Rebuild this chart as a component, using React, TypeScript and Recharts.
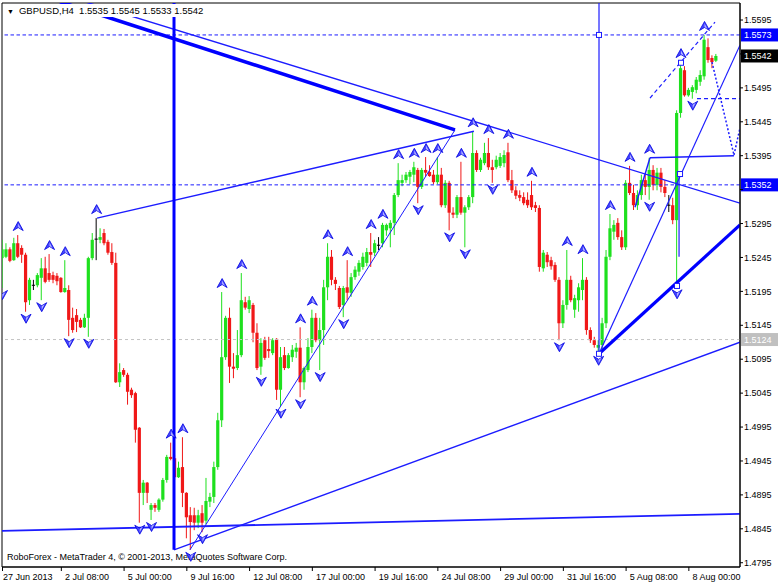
import React from 'react';
import {
  ComposedChart,
  Bar,
  Scatter,
  XAxis,
  YAxis,
  ReferenceLine,
  ReferenceDot,
  ReferenceArea,
} from 'recharts';

// GBPUSD H4, 27 Jun 2013 20:00 .. 8 Aug 2013
const opens = [
  1.5244, 1.5246, 1.5257, 1.5241, 1.5266, 1.5259, 1.5249, 1.5182, 1.5204, 1.5204,
  1.5215, 1.5229, 1.5222, 1.5219, 1.5218, 1.5215, 1.5194, 1.5197, 1.5156, 1.516,
  1.5153, 1.5142, 1.5156, 1.5244, 1.5272, 1.5271, 1.5281, 1.5268, 1.5253, 1.5237,
  1.5061, 1.5079, 1.5072, 1.505, 1.5045, 1.4994, 1.4898, 1.4913, 1.4873, 1.488,
  1.4873, 1.4888, 1.4917, 1.4951, 1.4949, 1.4921, 1.4936, 1.4898, 1.4865, 1.4865,
  1.4854, 1.4868, 1.4857, 1.4885, 1.4892, 1.4936, 1.5005, 1.5098, 1.5156, 1.5084,
  1.5082, 1.5101, 1.5179, 1.5169, 1.5175, 1.5134, 1.5084, 1.5123, 1.511, 1.5104,
  1.5125, 1.505, 1.5101, 1.5082, 1.5098, 1.5106, 1.5112, 1.5061, 1.5079, 1.5113,
  1.5156, 1.5123, 1.5138, 1.5201, 1.5246, 1.5212, 1.52, 1.5175, 1.5201, 1.5193,
  1.5216, 1.5224, 1.5231, 1.5237, 1.5253, 1.5252, 1.5263, 1.5266, 1.5285, 1.5288,
  1.5296, 1.5337, 1.5355, 1.5359, 1.5364, 1.5367, 1.5374, 1.5349, 1.5374, 1.5371,
  1.5367, 1.5356, 1.5367, 1.5322, 1.5355, 1.5311, 1.5308, 1.5334, 1.5311, 1.5319,
  1.5334, 1.5399, 1.5374, 1.5384, 1.5399, 1.5378, 1.5378, 1.538, 1.5384, 1.54,
  1.5359, 1.5344, 1.5337, 1.5334, 1.533, 1.5337, 1.5322, 1.5318, 1.5229, 1.5249,
  1.5241, 1.5234, 1.5212, 1.5148, 1.5175, 1.5212, 1.5168, 1.5182, 1.5197, 1.5212,
  1.5138, 1.5123, 1.5112, 1.5116, 1.5148, 1.5246, 1.5283, 1.5296, 1.5275, 1.526,
  1.5355, 1.534, 1.5322, 1.5337, 1.5359, 1.5349, 1.5374, 1.5352, 1.537, 1.5349,
  1.5322, 1.5322, 1.53, 1.5458, 1.5521, 1.5484, 1.5489, 1.5492, 1.5504, 1.5512,
  1.5555, 1.5539, 1.5535,
];

const highs = [
  1.5271, 1.5266, 1.526, 1.5274, 1.5278, 1.5263, 1.5252, 1.5215, 1.5212, 1.5222,
  1.5244, 1.5246, 1.525, 1.5224, 1.5222, 1.5216, 1.5241, 1.5204, 1.5171, 1.5169,
  1.5156, 1.5162, 1.5246, 1.5281, 1.5303, 1.5288, 1.5287, 1.5271, 1.5266, 1.5252,
  1.5089, 1.5082, 1.5075, 1.5053, 1.5047, 1.4995, 1.4917, 1.4914, 1.4883, 1.4883,
  1.489, 1.492, 1.4954, 1.4972, 1.4954, 1.4944, 1.498, 1.4899, 1.4877, 1.4876,
  1.4873, 1.488, 1.492, 1.4898, 1.4944, 1.5016, 1.5194, 1.5159, 1.5171, 1.5104,
  1.5138, 1.5222, 1.5187, 1.5188, 1.5178, 1.5148, 1.5126, 1.5128, 1.5128, 1.5126,
  1.5126, 1.5113, 1.5113, 1.5104, 1.5116, 1.5119, 1.5142, 1.5084, 1.5126, 1.5168,
  1.5163, 1.5156, 1.5212, 1.5266, 1.5256, 1.5216, 1.5203, 1.5203, 1.5241, 1.5222,
  1.5232, 1.5241, 1.5252, 1.5259, 1.5281, 1.5271, 1.5275, 1.5296, 1.5295, 1.53,
  1.534, 1.5384, 1.5367, 1.5371, 1.5374, 1.5386, 1.5377, 1.5377, 1.5393, 1.5381,
  1.5374, 1.5393, 1.5377, 1.5359, 1.5358, 1.5319, 1.5337, 1.5386, 1.5322, 1.5337,
  1.5431, 1.5403, 1.5392, 1.5414, 1.5421, 1.5389, 1.5395, 1.5399, 1.5403, 1.5414,
  1.5374, 1.535, 1.5344, 1.5341, 1.5341, 1.5358, 1.5327, 1.5322, 1.5256, 1.5253,
  1.5246, 1.5238, 1.5216, 1.5182, 1.5256, 1.5218, 1.519, 1.5207, 1.5244, 1.5216,
  1.5142, 1.5128, 1.5123, 1.5156, 1.5256, 1.5309, 1.53, 1.5303, 1.5285, 1.5359,
  1.538, 1.5352, 1.5344, 1.5367, 1.5368, 1.5392, 1.5381, 1.5377, 1.5377, 1.5359,
  1.5337, 1.5333, 1.5462, 1.5533, 1.5527, 1.5495, 1.5499, 1.5511, 1.5521, 1.5573,
  1.5568, 1.5543, 1.5545,
];

const lows = [
  1.52, 1.5244, 1.5238, 1.524, 1.5244, 1.5237, 1.5165, 1.5175, 1.5197, 1.5201,
  1.5182, 1.5207, 1.5209, 1.5207, 1.5204, 1.5193, 1.5193, 1.5129, 1.5134, 1.5135,
  1.5141, 1.5141, 1.5128, 1.5241, 1.5241, 1.5266, 1.5263, 1.5249, 1.5234, 1.506,
  1.5054, 1.5069, 1.5028, 1.5038, 1.4972, 1.4854, 1.488, 1.4883, 1.4858, 1.487,
  1.487, 1.4885, 1.4913, 1.4946, 1.4917, 1.492, 1.4877, 1.4831, 1.4814, 1.4843,
  1.4846, 1.484, 1.4852, 1.4877, 1.4883, 1.4932, 1.4995, 1.5094, 1.506, 1.5067,
  1.5079, 1.5098, 1.5168, 1.5163, 1.512, 1.5079, 1.5072, 1.5094, 1.5097, 1.5101,
  1.5035, 1.5025, 1.5079, 1.5081, 1.5091, 1.5097, 1.5039, 1.505, 1.5076, 1.5104,
  1.512, 1.5079, 1.5116, 1.5182, 1.5204, 1.5197, 1.5169, 1.5157, 1.5182, 1.5187,
  1.5212, 1.5218, 1.5227, 1.5232, 1.5231, 1.5247, 1.5256, 1.526, 1.5277, 1.526,
  1.5278, 1.5334, 1.535, 1.5355, 1.5353, 1.5356, 1.5325, 1.5346, 1.5364, 1.5364,
  1.5353, 1.5353, 1.5319, 1.5318, 1.5285, 1.5303, 1.5303, 1.5308, 1.526, 1.5315,
  1.5325, 1.5371, 1.5371, 1.5381, 1.5374, 1.5355, 1.5375, 1.5377, 1.5378, 1.5356,
  1.534, 1.5331, 1.5328, 1.5322, 1.5318, 1.5315, 1.5312, 1.5224, 1.5224, 1.5231,
  1.5227, 1.5209, 1.5123, 1.5141, 1.5168, 1.5179, 1.5156, 1.5165, 1.5182, 1.5131,
  1.5119, 1.5112, 1.5103, 1.5109, 1.5141, 1.5241, 1.5271, 1.5271, 1.5256, 1.5256,
  1.5337, 1.5315, 1.5315, 1.533, 1.5337, 1.533, 1.5344, 1.5344, 1.5341, 1.5334,
  1.5312, 1.5294, 1.5201, 1.5451, 1.5482, 1.5482, 1.5479, 1.5487, 1.5498, 1.5507,
  1.5532, 1.5524, 1.5533,
];

const closes = [
  1.5257, 1.5257, 1.524, 1.5266, 1.5246, 1.5249, 1.5179, 1.5212, 1.5204, 1.5219,
  1.5229, 1.5209, 1.5212, 1.5212, 1.521, 1.5194, 1.52, 1.5153, 1.5138, 1.515,
  1.5142, 1.5156, 1.5244, 1.5271, 1.5272, 1.5275, 1.5266, 1.5252, 1.5237, 1.5061,
  1.5076, 1.5072, 1.5047, 1.5042, 1.4991, 1.4898, 1.4913, 1.4898, 1.488, 1.4876,
  1.4888, 1.4917, 1.4951, 1.4948, 1.4921, 1.4935, 1.4898, 1.4862, 1.4855, 1.4854,
  1.4865, 1.4854, 1.4886, 1.4892, 1.4936, 1.5005, 1.5098, 1.5156, 1.5084, 1.5081,
  1.5101, 1.5182, 1.5171, 1.5182, 1.5134, 1.5082, 1.5119, 1.5097, 1.5107, 1.5123,
  1.505, 1.5098, 1.5082, 1.5101, 1.5109, 1.5112, 1.5061, 1.5082, 1.5113, 1.5156,
  1.5123, 1.5138, 1.5201, 1.5246, 1.5212, 1.5206, 1.5172, 1.52, 1.5193, 1.5216,
  1.5227, 1.5237, 1.5246, 1.5253, 1.5249, 1.5266, 1.5263, 1.5293, 1.5293, 1.5296,
  1.5337, 1.5359, 1.5359, 1.5367, 1.5371, 1.5378, 1.5349, 1.5374, 1.537, 1.5365,
  1.5356, 1.5367, 1.5322, 1.5355, 1.5311, 1.5308, 1.5334, 1.5311, 1.5319, 1.5334,
  1.5399, 1.5374, 1.5389, 1.5399, 1.5378, 1.5374, 1.5389, 1.5393, 1.5396, 1.5359,
  1.5344, 1.5336, 1.5333, 1.5325, 1.5322, 1.5319, 1.5318, 1.5231, 1.5252, 1.5238,
  1.5232, 1.5212, 1.5148, 1.5175, 1.5212, 1.5182, 1.5185, 1.5201, 1.5212, 1.5138,
  1.5123, 1.5116, 1.5116, 1.5148, 1.5246, 1.5288, 1.5293, 1.5275, 1.526, 1.5355,
  1.534, 1.5322, 1.5337, 1.5359, 1.5349, 1.5374, 1.5352, 1.537, 1.5349, 1.534,
  1.5322, 1.53, 1.5458, 1.5524, 1.5484, 1.5492, 1.5496, 1.5507, 1.5514, 1.5566,
  1.5536, 1.5533, 1.5542,
];

// bar numbers carrying a fractal arrow
const upFractals = [4, 12, 16, 24, 43, 46, 56, 61, 76, 79, 83, 88, 94, 97, 101, 105, 108, 111, 117, 120, 124, 129, 135, 144, 148, 155, 160, 165, 173, 179];
const downFractals = [0, 6, 10, 17, 22, 35, 38, 48, 51, 66, 71, 76, 81, 87, 106, 114, 118, 125, 142, 152, 165, 172, 176];

const dateTickBars = [0, 15, 31, 47, 63, 79, 95, 111, 127, 143, 159, 175];
const dateTickLabels = [
  '27 Jun 2013', '2 Jul 08:00', '5 Jul 00:00', '9 Jul 16:00', '12 Jul 08:00', '17 Jul 00:00',
  '19 Jul 16:00', '24 Jul 08:00', '29 Jul 00:00', '31 Jul 16:00', '5 Aug 08:00', '8 Aug 00:00',
];
const priceTicks = [
  1.5595, 1.5545, 1.5495, 1.5445, 1.5395, 1.5345, 1.5295, 1.5245, 1.5195,
  1.5145, 1.5095, 1.5045, 1.4995, 1.4945, 1.4895, 1.4845, 1.4795,
];

// price levels on the right scale
const highLevel = 1.5573;
const bidLevel = 1.5542;
const midLevel = 1.5352;
const lowLevel = 1.5124;
const taggedLevels = [highLevel, bidLevel, midLevel];

// drawn objects, anchors as [bar, price]
const thickFan = [[14.66, 1.5622], [115.37, 1.5433]];
const upperTrend = [[19.76, 1.5624], [188.04, 1.5325]];
const highsLine = [[24.1, 1.5303], [120.2, 1.5431]];
const baseLine = [[-0.13, 1.4842], [188.04, 1.4867]];
const longSupport = [[43.73, 1.4814], [188.04, 1.512]];
const steepRise = [[47.8, 1.4814], [115.37, 1.5433]];
const julyMarker = [[43.73, 1.5635], [43.73, 1.4814]];
const augMarker = [[152.09, 1.5635], [152.09, 1.5103]];
const augSupport = [[152.09, 1.5103], [188.04, 1.5293]];
const augRise = [[152.09, 1.5103], [188.04, 1.5558]];
const spikeMark = [[172.5, 1.5368], [172.5, 1.5246]];
const boxRise = [[161.27, 1.5319], [165.09, 1.5392]];
const boxTop = [[165.09, 1.5392], [186.5, 1.5395]];
const channelTop = [[165.09, 1.548], [181.67, 1.5592]];
const projDown = [[180.9, 1.5533], [186.5, 1.5396]];
const projUp = [[186.5, 1.5396], [188.04, 1.5436]];
const projLevel = [[177.08, 1.5479], [188.04, 1.5479]];
const anchorBoxes = [[152.09, 1.5573], [152.09, 1.5103], [171.98, 1.5203], [173.0, 1.5532], [172.75, 1.5368]];

const X_MIN = -0.1275;
const X_MAX = 188.04;
const Y_MIN = 1.47887;
const Y_MAX = 1.56201;

const candles = closes.map((c, i) => ({
  i,
  o: opens[i],
  h: highs[i],
  l: lows[i],
  c,
  range: [lows[i], highs[i]],
}));
const upData = upFractals.map((i) => ({ i, p: highs[i] }));
const downData = downFractals.map((i) => ({ i, p: lows[i] }));

const FONT = '"Liberation Sans", Arial, sans-serif';
const BLUE = '#1c1cff';

const seg = (pts: number[][]) => pts.map(([x, y]) => ({ x, y }));

const Candle = (props: any) => {
  const { x, y, width, height, payload } = props;
  if (x == null || !payload) return null;
  const top = Math.min(y, y + height);
  const bottom = Math.max(y, y + height);
  const { o, h, l, c } = payload;
  const span = h - l;
  const toY = (v: number) => (span > 0 ? top + ((h - v) / span) * (bottom - top) : top);
  const cx = x + width / 2;
  const yo = toY(o);
  const yc = toY(c);
  const color = c > o ? '#1ee01e' : c < o ? '#f01818' : '#000000';
  const bTop = Math.min(yo, yc);
  const bH = Math.max(Math.abs(yc - yo), 1);
  return (
    <g>
      <line x1={cx} x2={cx} y1={top} y2={bottom} stroke={color} strokeWidth={1} />
      {c === o ? (
        <line x1={cx - 1.6} x2={cx + 1.6} y1={yo} y2={yo} stroke={color} strokeWidth={1} />
      ) : (
        <rect x={cx - 1.6} y={bTop} width={3.2} height={bH} fill={color} />
      )}
    </g>
  );
};

const UpArrow = (props: any) => {
  const { cx, cy } = props;
  if (cx == null) return null;
  const y = cy - 9;
  return (
    <g>
      <path
        d={`M${cx},${y - 4.5} L${cx + 5},${y + 4.5} L${cx},${y + 1.5} L${cx - 5},${y + 4.5} Z`}
        fill="#4646ff"
        stroke="#0000e0"
        strokeWidth={0.8}
        strokeLinejoin="round"
      />
      <path d={`M${cx},${y - 2.5} L${cx + 2.8},${y + 3} L${cx},${y + 1}Z`} fill="#b8b8ff" />
    </g>
  );
};

const DownArrow = (props: any) => {
  const { cx, cy } = props;
  if (cx == null) return null;
  const y = cy + 7;
  return (
    <g>
      <path
        d={`M${cx},${y + 4.5} L${cx + 5},${y - 4.5} L${cx},${y - 1.5} L${cx - 5},${y - 4.5} Z`}
        fill="#4646ff"
        stroke="#0000e0"
        strokeWidth={0.8}
        strokeLinejoin="round"
      />
      <path d={`M${cx},${y + 2.5} L${cx + 2.8},${y - 3} L${cx},${y - 1}Z`} fill="#b8b8ff" />
    </g>
  );
};

const AnchorBox = (props: any) => {
  const { cx, cy } = props;
  if (cx == null) return null;
  return <rect x={cx - 2.5} y={cy - 2.5} width={5} height={5} fill="#ffffff" stroke={BLUE} strokeWidth={1} />;
};

const DateTick = (props: any) => {
  const { x, payload, index } = props;
  const label = dateTickLabels[dateTickBars.indexOf(payload.value)];
  return (
    <g>
      <line x1={x} x2={x} y1={567} y2={571} stroke="#000" />
      <text x={index === 0 ? 3 : x + 3.6} y={580} fontSize={9} fontFamily={FONT} fill="#000">
        {label}
      </text>
    </g>
  );
};

// price labels hidden behind a tag box are not printed
const PriceTick = (props: any) => {
  const { x, y, payload } = props;
  const v = payload.value as number;
  if (taggedLevels.some((t) => Math.abs(t - v) < 0.0009)) return null;
  return (
    <text x={x} y={y} dy="0.35em" fontSize={9} fontFamily={FONT} fill="#000" textAnchor="start">
      {v.toFixed(4)}
    </text>
  );
};

const priceTag = (value: number, bg: string, fg: string) => (props: any) => {
  const vb = props.viewBox || {};
  const x = (vb.x ?? 2) + (vb.width ?? 738);
  const y = vb.y ?? 0;
  return (
    <g>
      <rect x={x + 1} y={y - 6.5} width={37} height={13} fill={bg} />
      <text x={x + 4} y={y} dy="0.35em" fontSize={9} fontFamily={FONT} fill={fg}>
        {value.toFixed(4)}
      </text>
    </g>
  );
};

export default function App() {
  return (
    <div
      style={{
        position: 'absolute',
        left: 0,
        top: 0,
        width: 779,
        height: 584,
        background: '#ffffff',
        overflow: 'hidden',
        fontFamily: FONT,
      }}
    >
      <div
        style={{
          position: 'absolute',
          left: 7,
          top: 552,
          fontSize: 9,
          color: '#000',
          whiteSpace: 'nowrap',
        }}
      >
        RoboForex - MetaTrader 4, © 2001-2013, MetaQuotes Software Corp.
      </div>
      <ComposedChart
        width={779}
        height={584}
        data={candles}
        margin={{ top: 3, right: 0, bottom: 0, left: 2 }}
      >
        <XAxis
          dataKey="i"
          type="number"
          domain={[X_MIN, X_MAX]}
          allowDataOverflow
          ticks={dateTickBars}
          interval={0}
          height={17}
          tickLine={false}
          axisLine={{ stroke: '#000' }}
          tick={<DateTick />}
        />
        <YAxis
          orientation="right"
          type="number"
          domain={[Y_MIN, Y_MAX]}
          allowDataOverflow
          ticks={priceTicks}
          interval={0}
          width={39}
          tickSize={3}
          tickMargin={1}
          tickLine={{ stroke: '#000' }}
          axisLine={{ stroke: '#000' }}
          tick={<PriceTick />}
        />
        <ReferenceArea
          x1={X_MIN}
          x2={X_MAX}
          y1={Y_MIN}
          y2={Y_MAX}
          fill="none"
          stroke="#000"
          strokeWidth={1}
          ifOverflow="visible"
        />
        <ReferenceLine y={lowLevel} stroke="#c4c4c4" strokeDasharray="3 3" ifOverflow="visible" label={priceTag(lowLevel, '#c0c0c0', '#ffffff')} />
        <ReferenceLine y={highLevel} stroke={BLUE} strokeDasharray="3.5 2.5" ifOverflow="visible" label={priceTag(highLevel, '#0000ff', '#ffffff')} />
        <ReferenceLine y={midLevel} stroke={BLUE} strokeDasharray="3.5 2.5" ifOverflow="visible" label={priceTag(midLevel, '#0000ff', '#ffffff')} />
        <ReferenceLine y={bidLevel} stroke="none" strokeOpacity={0} ifOverflow="visible" label={priceTag(bidLevel, '#000000', '#ffffff')} />

        <Bar dataKey="range" barSize={3} shape={<Candle />} isAnimationActive={false} />
        <Scatter data={upData} dataKey="p" shape={<UpArrow />} isAnimationActive={false} />
        <Scatter data={downData} dataKey="p" shape={<DownArrow />} isAnimationActive={false} />

        <ReferenceLine segment={seg(thickFan)} stroke="#0000ff" strokeWidth={3.5} ifOverflow="hidden" />
        <ReferenceLine segment={seg(upperTrend)} stroke={BLUE} strokeWidth={1.4} ifOverflow="hidden" />
        <ReferenceLine segment={seg(highsLine)} stroke={BLUE} strokeWidth={1.4} ifOverflow="hidden" />
        <ReferenceLine segment={seg(baseLine)} stroke={BLUE} strokeWidth={1.8} ifOverflow="hidden" />
        <ReferenceLine segment={seg(longSupport)} stroke={BLUE} strokeWidth={1.4} ifOverflow="hidden" />
        <ReferenceLine segment={seg(steepRise)} stroke={BLUE} strokeWidth={1} ifOverflow="hidden" />
        <ReferenceLine segment={seg(julyMarker)} stroke="#0000ff" strokeWidth={3} ifOverflow="hidden" />
        <ReferenceLine segment={seg(augMarker)} stroke={BLUE} strokeWidth={1.2} ifOverflow="hidden" />
        <ReferenceLine segment={seg(augSupport)} stroke="#0000ff" strokeWidth={3.2} ifOverflow="hidden" />
        <ReferenceLine segment={seg(augRise)} stroke={BLUE} strokeWidth={1.2} ifOverflow="hidden" />
        <ReferenceLine segment={seg(spikeMark)} stroke={BLUE} strokeWidth={1.2} ifOverflow="hidden" />
        <ReferenceLine segment={seg(boxRise)} stroke={BLUE} strokeWidth={1.4} ifOverflow="hidden" />
        <ReferenceLine segment={seg(boxTop)} stroke={BLUE} strokeWidth={1.4} ifOverflow="hidden" />
        <ReferenceLine segment={seg(channelTop)} stroke={BLUE} strokeWidth={1.2} strokeDasharray="4 3" ifOverflow="hidden" />
        <ReferenceLine segment={seg(projDown)} stroke={BLUE} strokeWidth={1.5} strokeDasharray="2 2" ifOverflow="hidden" />
        <ReferenceLine segment={seg(projUp)} stroke={BLUE} strokeWidth={1.5} strokeDasharray="2 2" ifOverflow="hidden" />
        <ReferenceLine segment={seg(projLevel)} stroke={BLUE} strokeWidth={1.2} strokeDasharray="4 3" ifOverflow="hidden" />
        {anchorBoxes.map(([x, y], k) => (
          <ReferenceDot key={k} x={x} y={y} r={3} shape={<AnchorBox />} ifOverflow="visible" />
        ))}
      </ComposedChart>
      <div
        style={{
          position: 'absolute',
          left: 5,
          top: 4,
          height: 13,
          paddingRight: 3,
          background: '#ffffff',
          fontSize: 9.5,
          lineHeight: '13px',
          color: '#000',
          whiteSpace: 'nowrap',
          zIndex: 2,
        }}
      >
        <span style={{ fontSize: 7, marginLeft: 2, marginRight: 5 }}>▼</span>
        GBPUSD,H4&nbsp; 1.5535 1.5545 1.5533 1.5542
      </div>
    </div>
  );
}
